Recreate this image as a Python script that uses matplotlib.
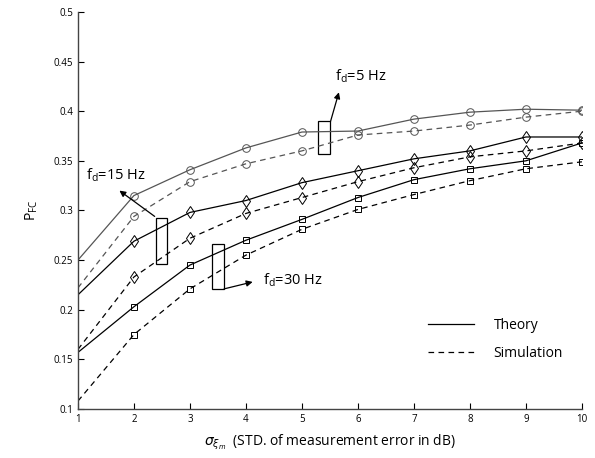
import matplotlib
matplotlib.use("Agg")
from matplotlib import pyplot as plt
from matplotlib.patches import Rectangle

plt.rcParams['font.family'] = ['Open Sans', 'DejaVu Sans']

# data
sigma = [1, 2, 3, 4, 5, 6, 7, 8, 9, 10]

theory_5 = [0.250, 0.315, 0.341, 0.363, 0.379, 0.380, 0.392, 0.399, 0.402, 0.401]
sim_5 = [0.222, 0.294, 0.329, 0.347, 0.360, 0.376, 0.380, 0.386, 0.394, 0.400]

theory_15 = [0.215, 0.269, 0.298, 0.310, 0.328, 0.340, 0.352, 0.360, 0.374, 0.374]
sim_15 = [0.160, 0.233, 0.272, 0.297, 0.313, 0.329, 0.343, 0.354, 0.360, 0.368]

theory_30 = [0.157, 0.203, 0.245, 0.270, 0.291, 0.313, 0.331, 0.342, 0.350, 0.368]
sim_30 = [0.108, 0.175, 0.221, 0.255, 0.281, 0.301, 0.316, 0.330, 0.342, 0.349]

yticks = [0.1, 0.15, 0.2, 0.25, 0.3, 0.35, 0.4, 0.45, 0.5]
ytick_labels = ['0.1', '0.15', '0.2', '0.25', '0.3', '0.35', '0.4', '0.45', '0.5']

fig = plt.figure(figsize=(5.95, 4.58), dpi=100)
ax = fig.add_axes([0.131, 0.107, 0.847, 0.867])

gray = '#555555'
dash = (0, (4.5, 3.5))
lw = 0.9
# no markers at sigma = 1
mk = dict(markerfacecolor='none', markeredgewidth=0.7, markevery=slice(1, None))

ax.plot(sigma, theory_5, '-', color=gray, lw=lw, marker='o', ms=5.5, markeredgecolor=gray, **mk)
ax.plot(sigma, sim_5, linestyle=dash, color=gray, lw=lw, marker='o', ms=5.5, markeredgecolor=gray, **mk)
ax.plot(sigma, theory_15, '-', color='black', lw=lw, marker='d', ms=6, markeredgecolor='black', **mk)
ax.plot(sigma, sim_15, linestyle=dash, color='black', lw=lw, marker='d', ms=6, markeredgecolor='black', **mk)
ax.plot(sigma, theory_30, '-', color='black', lw=lw, marker='s', ms=3.8, markeredgecolor='black', **mk)
ax.plot(sigma, sim_30, linestyle=dash, color='black', lw=lw, marker='s', ms=3.8, markeredgecolor='black', **mk)

# legend-like key without markers
ax.plot([], [], '-', color='black', lw=lw, label='Theory')
ax.plot([], [], linestyle=dash, color='black', lw=lw, label='Simulation')
handles, labels = ax.get_legend_handles_labels()
ax.legend(handles, labels, loc='upper left', bbox_to_anchor=(0.67, 0.26), frameon=False,
          fontsize=10, handlelength=3.3, handletextpad=1.4, labelspacing=0.9)

# group boxes with arrows
boxes = [(5.29, 0.3567, 0.22, 0.033), (2.39, 0.2465, 0.20, 0.0455), (3.40, 0.221, 0.21, 0.045)]
for bx, by, bw, bh in boxes:
    ax.add_patch(Rectangle((bx, by), bw, bh, fill=False, edgecolor='black', lw=0.9))

arrow = dict(arrowstyle='-|>', color='black', lw=0.9, mutation_scale=9, shrinkA=0, shrinkB=0)
ax.annotate('', xy=(5.66, 0.419), xytext=(5.51, 0.3895), arrowprops=arrow)
ax.annotate('', xy=(1.74, 0.320), xytext=(2.37, 0.294), arrowprops=arrow)
ax.annotate('', xy=(4.12, 0.228), xytext=(3.61, 0.221), arrowprops=arrow)

ax.text(5.59, 0.435, r'f$_\mathregular{d}$=5 Hz', fontsize=10.5, va='center', ha='left')
ax.text(1.14, 0.336, r'f$_\mathregular{d}$=15 Hz', fontsize=10.5, va='center', ha='left')
ax.text(4.30, 0.230, r'f$_\mathregular{d}$=30 Hz', fontsize=10.5, va='center', ha='left')

ax.set_xlim(1, 10)
ax.set_ylim(0.1, 0.5)
ax.set_xticks(sigma)
ax.set_yticks(yticks)
ax.set_yticklabels(ytick_labels)
ax.tick_params(direction='in', length=4, width=0.8, labelsize=7, colors='black')
for side in ['top', 'right']:
    ax.spines[side].set_visible(False)
for side in ['left', 'bottom']:
    ax.spines[side].set_color('#444444')
    ax.spines[side].set_linewidth(1.0)

ax.set_xlabel(r'$\sigma_{\xi_m}$  (STD. of measurement error in dB)', fontsize=10, labelpad=6)
ax.set_ylabel(r'P$_\mathregular{FC}$', fontsize=10, labelpad=10)

fig.savefig('out.png', dpi=100)
